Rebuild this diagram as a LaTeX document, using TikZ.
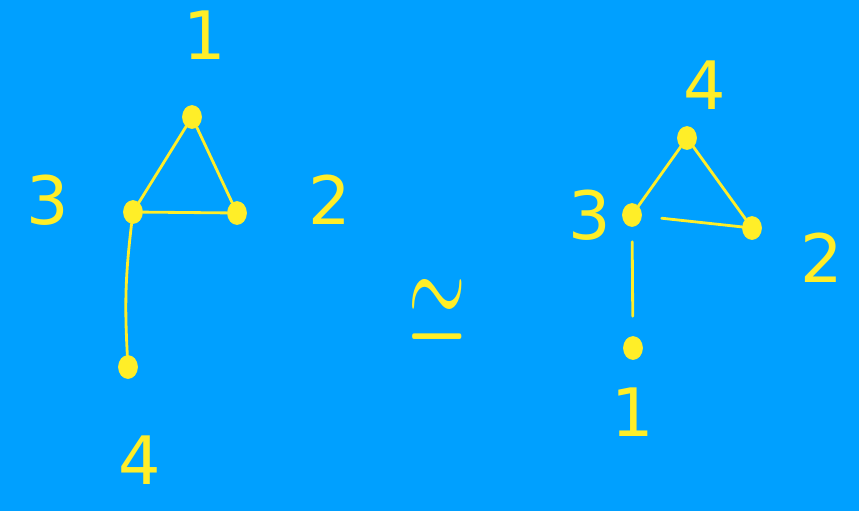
\documentclass[tikz,border=0pt]{standalone}
\usepackage{amsmath}
\usepackage{amssymb}
\usepackage{graphicx}
\usepackage{fontspec}
\setsansfont{DejaVu Sans}
\usepackage{tikz}
\usetikzlibrary{shapes.geometric}
\definecolor{board}{RGB}{0,160,255}
\definecolor{chalk}{RGB}{255,238,40}
\tikzset{
    vert/.style={ellipse, fill=chalk, draw=chalk, minimum width=0.38cm, minimum height=0.46cm, inner sep=0pt},
    lbl/.style={text=chalk, font=\sffamily\fontsize{38}{42}\selectfont, inner sep=0pt},
    edge/.style={draw=chalk, line width=1.6pt, line cap=round}
}

\begin{document}
\begin{tikzpicture}[x=0.02cm, y=-0.02cm]
    % Background
    \fill[board] (0,0) rectangle (859,511);

    % Left graph
    \node[vert] (a1) at (192,117) {};
    \node[vert] (a3) at (133,212) {};
    \node[vert] (a2) at (237,213) {};
    \node[vert] (a4) at (128,367) {};
    \draw[edge] (a1) -- (a3);
    \draw[edge] (a1) -- (a2);
    \draw[edge] (a3) -- (a2);
    \draw[edge] (a3) to[bend right=5] (a4);

    % Left labels
    \node[lbl] (l1) at (205,35) {1};
    \node[lbl] (l3) at (48,200) {3};
    \node[lbl] (l2) at (330,200) {2};
    \node[lbl] (l4) at (140,460) {4};

    % Isomorphism sign
    \node[text=chalk, inner sep=0pt] (iso) at (437,312) {\resizebox{1.15cm}{1.3cm}{$\simeq$}};

    % Right graph
    \node[vert] (b4) at (687,138) {};
    \node[vert] (b3) at (632,215) {};
    \node[vert] (b2) at (752,228) {};
    \node[vert] (b1) at (633,348) {};
    \draw[edge] (b4) -- (b3);
    \draw[edge] (b4) -- (b2);
    \draw[edge, shorten <=0.4cm] (b3) -- (b2);
    \draw[edge, shorten <=0.3cm, shorten >=0.4cm] (b3) -- (b1);

    % Right labels
    \node[lbl] (r4) at (705,85) {4};
    \node[lbl] (r3) at (590,215) {3};
    \node[lbl] (r2) at (822,258) {2};
    \node[lbl] (r1) at (633,412) {1};
\end{tikzpicture}
\end{document}
